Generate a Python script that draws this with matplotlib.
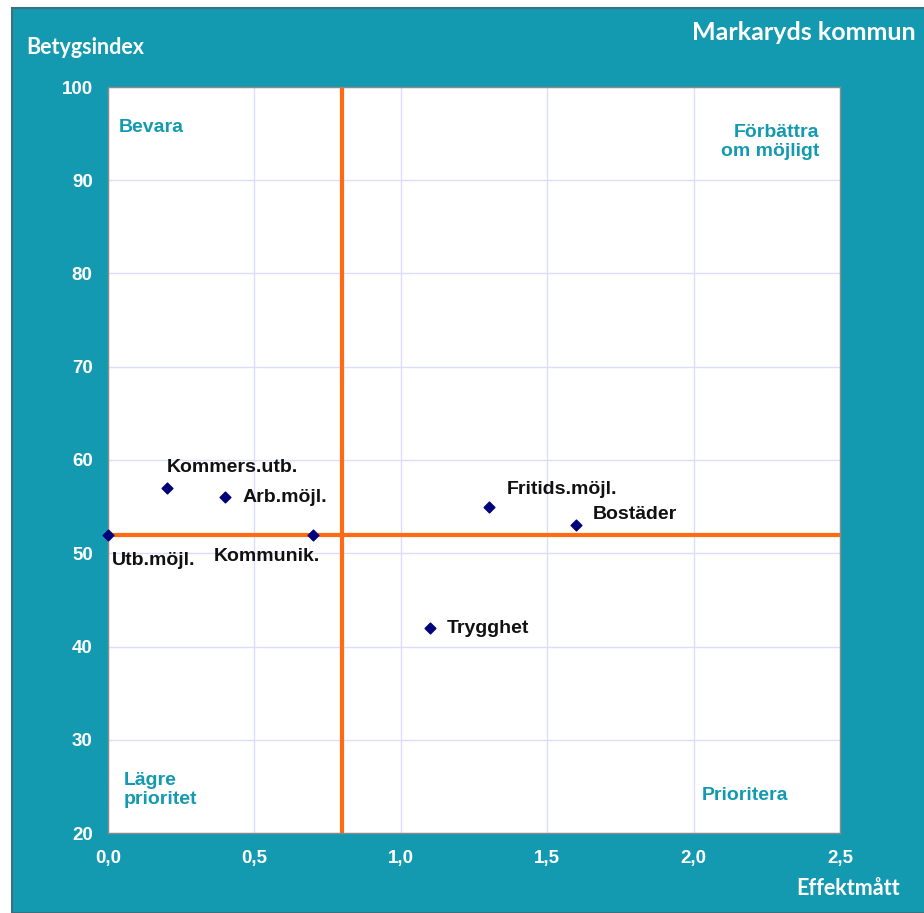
import matplotlib.pyplot as plt
from matplotlib.patches import Rectangle

# data
labels = ['Utb.möjl.', 'Kommers.utb.', 'Arb.möjl.', 'Kommunik.', 'Trygghet', 'Fritids.möjl.', 'Bostäder']
effekt = [0.0, 0.2, 0.4, 0.7, 1.1, 1.3, 1.6]
betyg = [52, 57, 56, 52, 42, 55, 53]
x_mid = 0.8
y_mid = 52
x_ticks = [0.0, 0.5, 1.0, 1.5, 2.0, 2.5]
y_ticks = [20, 30, 40, 50, 60, 70, 80, 90, 100]

# label offsets in pixels (dx, dy, ha)
offsets = [(4, -26, 'left'), (0, 20, 'left'), (17, 0, 'left'), (7, -22, 'right'),
           (17, -1, 'left'), (18, 17, 'left'), (16, 11, 'left')]

teal = '#139ab0'
fig = plt.figure(figsize=(9.24, 9.13), dpi=100)
fig.patch.set_facecolor('white')
fig.patches.append(Rectangle((12 / 924, 0), 1, 1 - 8 / 913, transform=fig.transFigure,
                             facecolor=teal, edgecolor='#3d6f7c', linewidth=1.5, zorder=-1))

ax = fig.add_axes([108 / 924, 1 - 833 / 913, 732 / 924, 746 / 913])
ax.set_facecolor('white')
ax.set_xlim(0, 2.5)
ax.set_ylim(20, 100)
ax.set_xticks(x_ticks)
ax.set_yticks(y_ticks)
ax.set_xticklabels([f'{v:.1f}'.replace('.', ',') for v in x_ticks])
ax.grid(True, color='#dcdcff', linewidth=1)
ax.set_axisbelow(True)
for s in ax.spines.values():
    s.set_color('#8a8a8a')
    s.set_linewidth(1)
ax.tick_params(length=0, pad=12, labelcolor='white', labelsize=13.5)
ax.tick_params(axis='y', pad=11)
for t in ax.get_xticklabels() + ax.get_yticklabels():
    t.set_fontweight('bold')
    t.set_family('Liberation Sans')

ax.axvline(x_mid, color='#ff6a13', linewidth=3, zorder=2)
ax.axhline(y_mid, color='#ff6a13', linewidth=3, zorder=2)

ax.scatter(effekt, betyg, marker='D', s=30, color='#00007a', zorder=3, clip_on=False)
for lab, x, y, (dx, dy, ha) in zip(labels, effekt, betyg, offsets):
    ax.annotate(lab, (x, y), xytext=(dx, dy), textcoords='offset pixels', ha=ha, va='center',
                fontsize=14, fontweight='bold', family='Liberation Sans', color='#111111')

qkw = dict(transform=ax.transAxes, color=teal, fontsize=14, fontweight='bold', family='Liberation Sans')
ax.text(11 / 732, 1 - 41 / 746, 'Bevara', ha='left', va='center', **qkw)
ax.text(1 - 21 / 732, 1 - 55 / 746, 'Förbättra\nom möjligt', ha='right', va='center', linespacing=1.2, **qkw)
ax.text(16 / 732, 43 / 746, 'Lägre\nprioritet', ha='left', va='center', linespacing=1.2, **qkw)
ax.text(1 - 52 / 732, 37 / 746, 'Prioritera', ha='right', va='center', **qkw)

fig.text(916 / 924, 1 - 33 / 913, 'Markaryds kommun', ha='right', va='center', color='white',
         fontsize=18, fontweight='bold', family='Lato')
fig.text(85 / 924, 1 - 47 / 913, 'Betygsindex', ha='center', va='center', color='white',
         fontsize=15.5, fontweight='bold', family='Lato')
fig.text(848 / 924, 1 - 888 / 913, 'Effektmått', ha='center', va='center', color='white',
         fontsize=15.5, fontweight='bold', family='Lato')

fig.savefig('out.png', dpi=100)
